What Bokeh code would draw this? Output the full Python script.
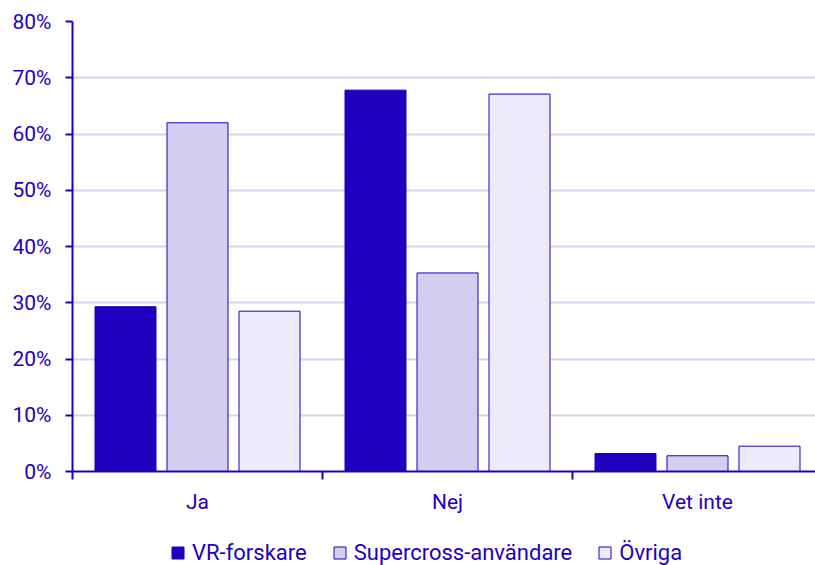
from bokeh.plotting import figure
from bokeh.layouts import column
from bokeh.models import ColumnDataSource, Range1d, FixedTicker, Legend, LegendItem
from bokeh.transform import dodge
from bokeh.embed import file_html
from bokeh.resources import INLINE

categories = ["Ja", "Nej", "Vet inte"]
series = ["VR-forskare", "Supercross-användare", "Övriga"]
vr = [29.3, 67.8, 3.2]
supercross = [62.0, 35.3, 2.8]
ovriga = [28.5, 67.1, 4.5]
y_ticks = [0, 10, 20, 30, 40, 50, 60, 70, 80]

DARK = "#1E00BE"
MID = "#D2CEF0"
LIGHT = "#ECEBFC"
GRID = "#D6D3F2"
FONT = "Roboto"
FS = "21px"

xc = [i + 0.5 for i in range(len(categories))]
src = ColumnDataSource(dict(x=xc, vr=vr, sc=supercross, ov=ovriga))

p = figure(width=815, height=525, output_backend="svg", toolbar_location=None,
           x_range=Range1d(0, 2.972), y_range=Range1d(0, 80),
           min_border_left=72, min_border_top=21, min_border_right=0,
           min_border_bottom=54)
p.outline_line_color = None

w = 0.244
off = 0.288
colors = [DARK, MID, LIGHT]
cols = ["vr", "sc", "ov"]
for k, (c, col) in enumerate(zip(colors, cols)):
    p.vbar(x=dodge("x", (k - 1) * off), top=col, width=w, source=src,
           fill_color=c, line_color=DARK, line_width=1)

# x axis
p.xaxis.ticker = FixedTicker(ticks=xc, minor_ticks=list(range(len(categories) + 1)))
p.xaxis.major_label_overrides = {x: c for x, c in zip(xc, categories)}
p.xaxis.major_tick_out = 0
p.xaxis.major_tick_in = 0
p.xaxis.minor_tick_out = 8
p.xaxis.minor_tick_in = 0
p.xaxis.minor_tick_line_color = DARK
p.xaxis.minor_tick_line_width = 2
p.xaxis.axis_line_color = DARK
p.xaxis.axis_line_width = 2
p.xaxis.major_label_text_color = DARK
p.xaxis.major_label_text_font = FONT
p.xaxis.major_label_text_font_size = FS
p.xaxis.major_label_standoff = 10
p.xgrid.grid_line_color = None

# y axis
p.yaxis.ticker = FixedTicker(ticks=y_ticks)
p.yaxis.major_label_overrides = {t: f"{t}%" for t in y_ticks}
p.yaxis.minor_tick_line_color = None
p.yaxis.major_tick_out = 7
p.yaxis.major_tick_in = 0
p.yaxis.major_tick_line_color = DARK
p.yaxis.major_tick_line_width = 2
p.yaxis.axis_line_color = DARK
p.yaxis.axis_line_width = 2
p.yaxis.major_label_text_color = DARK
p.yaxis.major_label_text_font = FONT
p.yaxis.major_label_text_font_size = FS
p.yaxis.major_label_standoff = 14
p.ygrid.grid_line_color = GRID
p.ygrid.grid_line_width = 2

# legend in its own strip
lg = figure(width=815, height=40, output_backend="svg", toolbar_location=None,
            x_range=Range1d(0, 1), y_range=Range1d(0, 1),
            min_border=0)
lg.axis.visible = False
lg.grid.visible = False
lg.outline_line_color = None
rs = []
for c in colors:
    rs.append(lg.vbar(x=[5], top=[1], width=0.1, fill_color=c, line_color=DARK, line_width=1))
legend = Legend(items=[LegendItem(label=s, renderers=[r]) for s, r in zip(series, rs)],
                orientation="horizontal", location=(98, 0),
                label_text_font=FONT, label_text_font_size="22px",
                label_text_color=DARK, glyph_width=15, glyph_height=15,
                label_standoff=7, spacing=25, border_line_color=None,
                background_fill_alpha=0, padding=0, margin=0, label_height=20)
lg.add_layout(legend, "center")

open("out.html", "w").write(file_html(column(p, lg, spacing=0), INLINE))
